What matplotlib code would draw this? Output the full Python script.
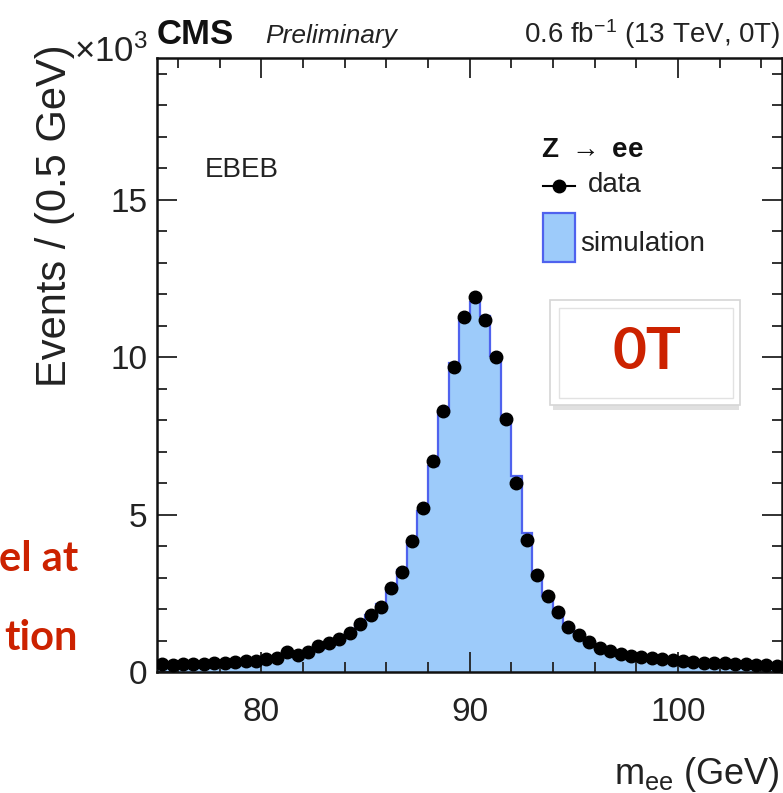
import numpy as np
import matplotlib
matplotlib.use("Agg")
import matplotlib.pyplot as plt
from matplotlib.ticker import MultipleLocator
from matplotlib.patches import Rectangle

# bin edges of the m_ee histogram (0.5 GeV bins from 75 to 105 GeV)
x_min, x_max, bin_width = 75.0, 105.0, 0.5

# events per bin, in units of 10^3
data_counts = [
    0.24, 0.22, 0.24, 0.26, 0.25, 0.28, 0.30, 0.31, 0.35, 0.34,
    0.40, 0.45, 0.62, 0.55, 0.65, 0.81, 0.91, 1.04, 1.23, 1.53,
    1.82, 2.08, 2.66, 3.19, 4.15, 5.21, 6.70, 8.29, 9.70, 11.28,
    11.92, 11.19, 9.99, 8.03, 6.01, 4.20, 3.09, 2.40, 1.90, 1.44,
    1.16, 0.95, 0.77, 0.67, 0.58, 0.52, 0.47, 0.43, 0.40, 0.37,
    0.34, 0.32, 0.30, 0.28, 0.27, 0.25, 0.24, 0.22, 0.21, 0.20,
]
sim_counts = [
    0.21, 0.22, 0.23, 0.24, 0.26, 0.27, 0.29, 0.31, 0.33, 0.35,
    0.38, 0.42, 0.47, 0.53, 0.61, 0.72, 0.86, 1.02, 1.22, 1.48,
    1.80, 2.17, 2.68, 3.25, 4.10, 5.10, 6.55, 8.25, 9.80, 11.20,
    11.75, 11.30, 10.05, 8.10, 6.22, 4.42, 3.15, 2.40, 1.88, 1.47,
    1.16, 0.94, 0.78, 0.67, 0.58, 0.52, 0.47, 0.43, 0.40, 0.37,
    0.34, 0.32, 0.30, 0.28, 0.26, 0.25, 0.24, 0.22, 0.21, 0.20,
]

x_ticks = [80, 90, 100]
y_ticks = [0, 5, 10, 15]

W, H = 783, 793


def px(x, y):
    """pixel position (from top-left) -> figure fraction"""
    return x / W, 1 - y / H


def draw_mass_plot(outputfile):
    plt.rcParams['font.family'] = ['Liberation Sans', 'DejaVu Sans']
    plt.rcParams['mathtext.default'] = 'regular'

    fig = plt.figure(figsize=(W / 100, H / 100), dpi=100)
    ax = fig.add_axes([157 / W, 1 - 672 / H, 625 / W, 614 / H])

    edges = np.arange(x_min, x_max + bin_width / 2, bin_width)
    centers = edges[:-1] + bin_width / 2

    # simulation: filled histogram with blue outline
    ax.stairs(sim_counts, edges, fill=True, color='#9dcbfa', zorder=1)
    ax.stairs(sim_counts, edges, color='#4f62ee', lw=1.6, zorder=2)

    # data points
    ax.plot(centers, data_counts, 'o', color='black', ms=9, zorder=3)

    ax.set_xlim(x_min, x_max)
    ax.set_ylim(0, 19.5)
    ax.set_xticks(x_ticks)
    ax.set_yticks(y_ticks)
    ax.xaxis.set_minor_locator(MultipleLocator(2))
    ax.yaxis.set_minor_locator(MultipleLocator(1))
    ax.tick_params(which='both', direction='in', top=True, right=True,
                   width=1.3, color='#222222', labelsize=24, labelcolor='#222222')
    ax.tick_params(which='major', length=14.5)
    ax.tick_params(which='minor', length=7.2)
    ax.tick_params(axis='x', pad=18)
    ax.tick_params(axis='y', pad=7)
    for sp in ax.spines.values():
        sp.set_linewidth(1.8)
        sp.set_color('#111111')

    # axis titles
    fig.text(*px(55, 44), 'Events / (0.5 GeV)', rotation=90, ha='center',
             va='top', fontsize=30, color='#222222')
    fig.text(*px(780, 774), r'm$_{ee}$ (GeV)', ha='right', va='center',
             fontsize=26, color='#222222')
    fig.text(*px(74, 62), r'×10$^{3}$', ha='left', va='baseline',
             fontsize=25, color='#222222')

    # header
    fig.text(*px(157, 44), 'CMS', ha='left', va='baseline',
             fontsize=25, fontweight='bold', color='#111111')
    fig.text(*px(265, 43), 'Preliminary', ha='left', va='baseline',
             fontsize=19, fontstyle='italic', color='#222222')
    fig.text(*px(780, 43), r'0.6 fb$^{-1}$ (13 TeV, 0T)', ha='right',
             va='baseline', fontsize=20, color='#222222')

    fig.text(*px(205, 170), 'EBEB', ha='left', va='center',
             fontsize=20, color='#222222')

    # legend
    fig.text(*px(541, 150), r'Z $\rightarrow$ ee', ha='left', va='center',
             fontsize=20, fontweight='bold', color='#111111')
    lx0, ly = px(543, 186)
    lx1, _ = px(575, 186)
    fig.add_artist(plt.Line2D([lx0, lx1], [ly, ly], color='black', lw=1.5,
                              transform=fig.transFigure))
    fig.add_artist(plt.Line2D([(lx0 + lx1) / 2], [ly], marker='o', ms=9,
                              color='black', transform=fig.transFigure))
    fig.text(*px(588, 185), 'data', ha='left', va='center',
             fontsize=20, color='#222222')
    bx, by = px(543, 262)
    fig.add_artist(Rectangle((bx, by), 32 / W, 49 / H, facecolor='#9dcbfa',
                             edgecolor='#4f62ee', lw=1.6,
                             transform=fig.transFigure))
    fig.text(*px(580, 244), 'simulation', ha='left', va='center',
             fontsize=20, color='#222222')

    # "0T" label box with a soft shadow
    sx, sy = px(553, 410)
    fig.add_artist(Rectangle((sx, sy), 186 / W, 108 / H, facecolor='#d4d4d4',
                             edgecolor='none', alpha=0.7,
                             transform=fig.transFigure))
    ox, oy = px(550, 405)
    fig.add_artist(Rectangle((ox, oy), 190 / W, 105 / H, facecolor='white',
                             edgecolor='#d6d6d6', lw=1.2,
                             transform=fig.transFigure))
    ix, iy = px(559, 398)
    fig.add_artist(Rectangle((ix, iy), 174 / W, 90 / H, facecolor='none',
                             edgecolor='#e2e2e2', lw=1.0,
                             transform=fig.transFigure))
    fig.text(*px(647, 352), '0T', ha='center', va='center', fontsize=42,
             fontweight='bold', color='#cc2200', family=['Lato', 'DejaVu Sans'])

    # cropped slide text on the left
    fig.text(*px(78, 571), 'el at', ha='right', va='baseline', fontsize=30,
             fontweight='bold', color='#cc2200', family=['Lato', 'DejaVu Sans'])
    fig.text(*px(78, 650), 'tion', ha='right', va='baseline', fontsize=30,
             fontweight='bold', color='#cc2200', family=['Lato', 'DejaVu Sans'])

    fig.savefig(outputfile, dpi=100)
    plt.close(fig)


if __name__ == "__main__":
    draw_mass_plot("out.png")
